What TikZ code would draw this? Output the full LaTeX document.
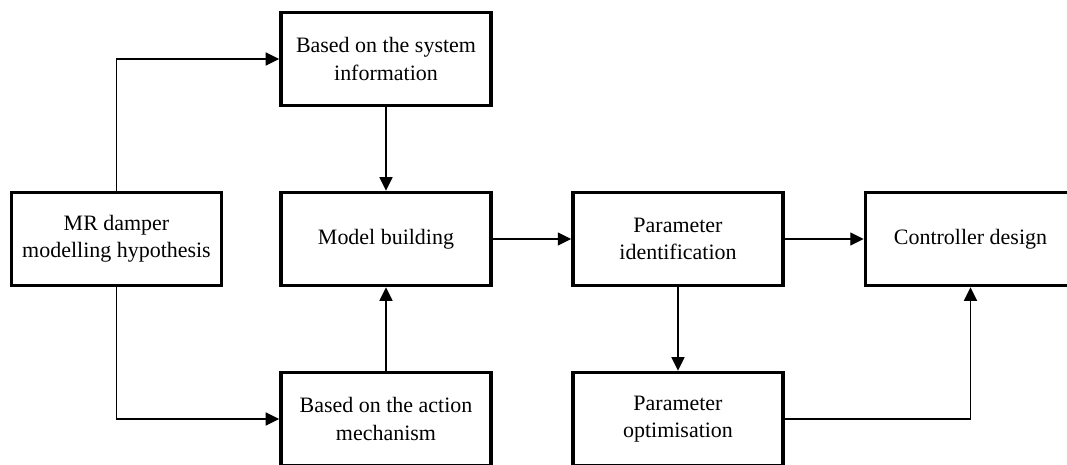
\documentclass[tikz,border=0pt]{standalone}
\usepackage{fontspec}
\setmainfont{Liberation Serif}
\usetikzlibrary{arrows.meta}

\begin{document}
\begin{tikzpicture}[
  blockbox/.style={draw=black, line width=2pt, align=center, minimum width=4.2cm, minimum height=1.86cm, inner sep=0pt, font=\fontsize{12.5}{15.4}\selectfont},
  conn/.style={draw=black, line width=0.8pt, -{Triangle[length=0.27cm, width=0.26cm]}}
]
\useasboundingbox (0,0) rectangle (21.34,-9.3);
\node[blockbox] (hyp) at (2.33,-4.78) {MR damper\\modelling hypothesis};
\node[blockbox] (sysinfo) at (7.72,-1.18) {Based on the system\\information};
\node[blockbox] (model) at (7.72,-4.78) {Model building};
\node[blockbox] (action) at (7.72,-8.38) {Based on the action\\mechanism};
\node[blockbox] (paramid) at (13.56,-4.78) {Parameter\\identification};
\node[blockbox] (paramopt) at (13.56,-8.38) {Parameter\\optimisation};
\node[blockbox] (ctrl) at (19.41,-4.78) {Controller design};
\draw[conn] (hyp.north) |- (sysinfo.west);
\draw[conn] (hyp.south) |- (action.west);
\draw[conn] (sysinfo) -- (model);
\draw[conn] (action) -- (model);
\draw[conn] (model) -- (paramid);
\draw[conn] (paramid) -- (ctrl);
\draw[conn] (paramid) -- (paramopt);
\draw[conn] (paramopt.east) -| (ctrl.south);
\end{tikzpicture}
\end{document}
